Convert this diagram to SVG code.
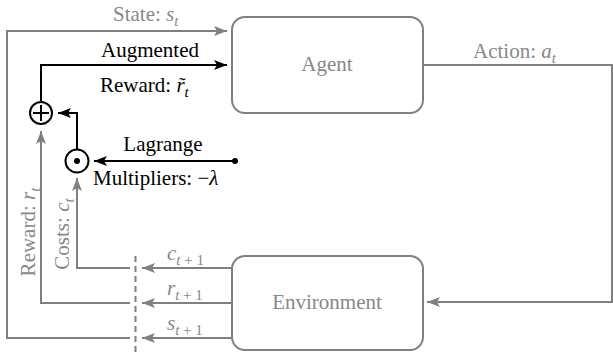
<svg xmlns="http://www.w3.org/2000/svg" width="613" height="352" viewBox="0 0 613 352">
<defs>
<style>
.t{font-family:"Times New Roman","Liberation Serif",Times,serif;font-size:21px}
.g{fill:#888888}
.k{fill:#000000}
.i{font-style:italic}
.sub{font-size:15px}
.gl{fill:none;stroke:#808080;stroke-width:2}
.kl{fill:none;stroke:#000000;stroke-width:2}
.box{fill:#ffffff;stroke:#808080;stroke-width:2}
</style>
<marker id="ag" markerUnits="userSpaceOnUse" markerWidth="14" markerHeight="12" refX="13" refY="5" orient="auto"><path d="M0,0 L13,5 L0,10 L3,5 z" fill="#808080"/></marker>
<marker id="ak" markerUnits="userSpaceOnUse" markerWidth="14" markerHeight="12" refX="13" refY="5" orient="auto"><path d="M0,0 L13,5 L0,10 L3,5 z" fill="#000000"/></marker>
</defs>
<rect width="613" height="352" fill="#ffffff"/>
<g id="connectors">
<path class="gl" d="M130,338 H7 V31 H227" marker-end="url(#ag)"/>
<path class="kl" d="M41,102 V65 H227" marker-end="url(#ak)"/>
<path class="kl" d="M77,149 V113 H58" marker-end="url(#ak)"/>
<path class="kl" d="M235,161 H94" marker-end="url(#ak)"/>
<circle cx="235" cy="161" r="3" fill="#000000"/>
<path class="gl" d="M130,303 H41 V131" marker-end="url(#ag)"/>
<path class="gl" d="M130,268 H77 V178" marker-end="url(#ag)"/>
<path class="gl" d="M232,268 H142" marker-end="url(#ag)"/>
<path class="gl" d="M232,303 H142" marker-end="url(#ag)"/>
<path class="gl" d="M232,338 H142" marker-end="url(#ag)"/>
<path class="gl" d="M423,65 H612 V302 H427" marker-end="url(#ag)"/>
<line x1="135.5" y1="256" x2="135.5" y2="352" stroke="#808080" stroke-width="2" stroke-dasharray="6,4"/>
</g>
<g id="agent">
<rect class="box" x="232" y="17" width="191" height="96" rx="13"/>
<text class="t g" x="327" y="71" text-anchor="middle">Agent</text>
</g>
<g id="environment">
<rect class="box" x="232" y="256" width="191" height="94" rx="13"/>
<text class="t g" x="327" y="309" text-anchor="middle">Environment</text>
</g>
<g id="sum">
<circle cx="41" cy="113" r="11" fill="#ffffff" stroke="#000000" stroke-width="2"/>
<path class="kl" d="M33,113 H49 M41,105 V121"/>
</g>
<g id="product">
<circle cx="77" cy="161" r="11.5" fill="#ffffff" stroke="#000000" stroke-width="2"/>
<circle cx="77" cy="161" r="3" fill="#000000"/>
</g>
<g id="labels">
<text class="t g" x="113" y="21">State: <tspan class="i">s</tspan><tspan class="i sub" dy="5">t</tspan></text>
<text class="t k" x="150" y="57" text-anchor="middle">Augmented</text>
<text class="t k" x="100" y="92">Reward: <tspan class="i">r̃</tspan><tspan class="i sub" dy="5">t</tspan></text>
<text class="t k" x="163" y="151" text-anchor="middle">Lagrange</text>
<text class="t k" x="93" y="185">Multipliers: −<tspan class="i">λ</tspan></text>
<text class="t g" x="473" y="58">Action: <tspan class="i">a</tspan><tspan class="i sub" dy="5">t</tspan></text>
<text class="t g" x="167" y="260"><tspan class="i">c</tspan><tspan class="sub" dy="5"><tspan class="i">t</tspan> + 1</tspan></text>
<text class="t g" x="167" y="295"><tspan class="i">r</tspan><tspan class="sub" dy="5"><tspan class="i">t</tspan> + 1</tspan></text>
<text class="t g" x="167" y="330"><tspan class="i">s</tspan><tspan class="sub" dy="5"><tspan class="i">t</tspan> + 1</tspan></text>
<text class="t g" transform="translate(35,232) rotate(-90)" text-anchor="middle">Reward: <tspan class="i">r</tspan><tspan class="i sub" dy="5">t</tspan></text>
<text class="t g" transform="translate(69,234) rotate(-90)" text-anchor="middle">Costs: <tspan class="i">c</tspan><tspan class="i sub" dy="5">t</tspan></text>
</g>
</svg>
